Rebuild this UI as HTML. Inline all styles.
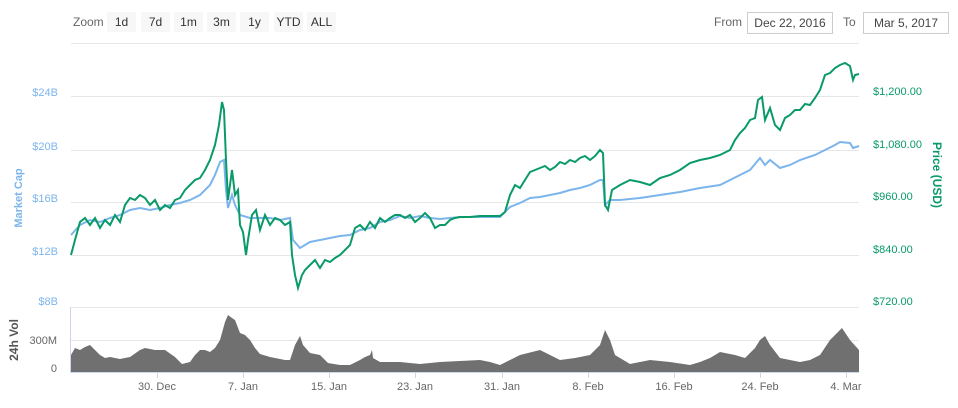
<!DOCTYPE html>
<html><head><meta charset="utf-8"><style>
body{margin:0;background:#fff;font-family:"Liberation Sans",sans-serif;}
.btn{position:absolute;top:12px;height:20px;background:#f7f7f7;font-size:12px;color:#333;line-height:20px;text-align:center;border-radius:2px}
.box{position:absolute;top:12px;height:20px;border:1px solid #ccc;font-size:12px;color:#444;line-height:20px;text-align:center}
</style></head><body>
<div style="position:relative;width:958px;height:408px;overflow:hidden">
<div style="position:absolute;left:73px;top:12px;font-size:12px;line-height:20px;color:#666">Zoom</div>
<div class="btn" style="left:107px;width:29px">1d</div>
<div class="btn" style="left:141px;width:29px">7d</div>
<div class="btn" style="left:174px;width:29px">1m</div>
<div class="btn" style="left:207px;width:29px">3m</div>
<div class="btn" style="left:240px;width:29px">1y</div>
<div class="btn" style="left:274px;width:29px">YTD</div>
<div class="btn" style="left:307px;width:29px">ALL</div>
<div style="position:absolute;left:714px;top:12px;font-size:12px;line-height:20px;color:#666">From</div>
<div class="box" style="left:747px;width:84px">Dec 22, 2016</div>
<div style="position:absolute;left:843px;top:12px;font-size:12px;line-height:20px;color:#666">To</div>
<div class="box" style="left:863px;width:84px">Mar 5, 2017</div>
<svg width="958" height="408" style="position:absolute;left:0;top:0" font-family="Liberation Sans, sans-serif">
<g stroke="#e6e6e6" stroke-width="1">
<line x1="71" x2="859" y1="43.5" y2="43.5"/><line x1="71" x2="859" y1="96.5" y2="96.5"/><line x1="71" x2="859" y1="150.5" y2="150.5"/><line x1="71" x2="859" y1="202.5" y2="202.5"/><line x1="71" x2="859" y1="255.5" y2="255.5"/><line x1="71" x2="859" y1="307.5" y2="307.5"/><line x1="71" x2="859" y1="340.5" y2="340.5"/>
</g>
<line x1="70.5" x2="70.5" y1="307" y2="373" stroke="#ccd6eb"/>
<line x1="70" x2="859" y1="372.5" y2="372.5" stroke="#ccd6eb"/>
<g stroke="#ccd6eb"><line x1="157.5" x2="157.5" y1="373" y2="378"/><line x1="243.5" x2="243.5" y1="373" y2="378"/><line x1="329.5" x2="329.5" y1="373" y2="378"/><line x1="415.5" x2="415.5" y1="373" y2="378"/><line x1="502.5" x2="502.5" y1="373" y2="378"/><line x1="588.5" x2="588.5" y1="373" y2="378"/><line x1="674.5" x2="674.5" y1="373" y2="378"/><line x1="760.5" x2="760.5" y1="373" y2="378"/><line x1="846.5" x2="846.5" y1="373" y2="378"/></g>
<polygon fill="#707070" points="71,372 71,355 75,348 80,350 85,347 90,345 95,350 100,355 105,358 110,357 120,359 130,357 140,350 145,348 155,350 165,350 175,357 182,364 190,362 195,355 200,350 205,350 210,352 215,348 220,340 225,322 228,315 232,318 235,320 240,333 245,335 250,340 255,348 260,354 270,357 285,360 290,360 295,345 300,336 303,345 310,353 320,355 328,363 340,365 350,365 360,360 365,357 370,355 372,350 373,358 380,362 400,362 420,364 440,362 460,361 480,360 490,362 500,365 510,360 520,355 540,350 550,355 560,360 575,358 590,355 600,345 605,330 610,340 615,355 630,364 650,360 670,362 690,365 700,362 710,358 720,352 735,355 745,358 755,348 760,340 765,336 770,345 780,358 800,362 810,360 820,355 830,340 840,330 842,328 850,340 859,350 859,372"/>
<polyline fill="none" stroke="#7cb5ec" stroke-width="2" points="71,235 80,225 90,220 100,222 110,218 120,215 130,210 140,208 150,210 160,208 170,205 180,203 190,200 200,195 210,185 215,175 220,162 224,160 226,190 228,208 232,195 235,205 240,215 250,218 260,218 270,218 280,220 290,218 293,240 300,248 310,242 320,240 330,238 340,236 350,235 360,230 370,228 380,222 390,220 400,216 410,218 420,216 430,218 440,219 450,218 460,217 500,217 510,207 520,203 530,198 540,197 550,195 560,193 570,190 580,188 590,185 600,180 603,180 605,205 610,200 620,200 640,198 660,195 680,192 700,188 720,185 740,175 750,170 760,158 765,165 770,160 780,168 790,165 800,160 815,155 825,150 835,145 840,142 850,143 853,148 859,146"/>
<polyline fill="none" stroke="#0a9a68" stroke-width="2" points="71,255 75,240 80,222 85,218 90,225 95,218 100,228 105,220 110,225 115,215 120,222 125,205 130,198 135,200 140,195 145,198 150,205 155,200 160,210 165,205 170,208 175,200 180,198 185,190 190,185 195,180 200,178 205,170 210,160 215,145 219,125 222,102 224,110 226,160 228,200 232,170 235,195 238,190 240,225 243,232 246,255 248,240 252,215 256,210 260,230 265,215 270,225 275,218 280,220 285,225 290,222 292,255 295,275 298,288 302,275 305,270 310,265 315,260 320,268 325,260 330,262 335,258 340,255 345,250 350,245 355,228 360,225 365,230 370,222 375,228 380,218 385,222 390,218 395,215 400,215 405,218 410,215 415,222 420,218 425,213 430,218 435,228 440,225 445,225 450,220 455,218 460,217 470,217 480,216 490,216 500,216 505,212 510,195 515,185 520,188 525,180 530,172 535,170 540,168 545,166 550,170 555,167 560,162 565,164 570,160 575,162 580,158 585,156 590,160 595,156 600,150 603,153 605,205 608,210 612,190 620,185 630,180 640,182 650,185 660,178 670,175 680,170 690,163 700,160 710,158 720,155 730,150 735,140 740,133 745,128 750,120 755,118 758,100 762,97 765,120 770,108 775,125 780,130 785,118 790,115 795,110 800,110 805,104 810,105 815,98 820,90 825,75 830,73 835,68 840,65 845,63 850,66 853,80 855,75 859,74"/>
<g font-size="11" fill="#7cb5ec" text-anchor="end"><text x="58" y="96">$24B</text><text x="58" y="150">$20B</text><text x="58" y="202">$16B</text><text x="58" y="255">$12B</text><text x="58" y="305">$8B</text></g>
<g font-size="11" fill="#0a9a68"><text x="873" y="95">$1,200.00</text><text x="873" y="148">$1,080.00</text><text x="873" y="200">$960.00</text><text x="873" y="253">$840.00</text><text x="873" y="305">$720.00</text></g>
<g font-size="11" fill="#666" text-anchor="end"><text x="57" y="344">300M</text><text x="57" y="372">0</text></g>
<g font-size="11" fill="#666" text-anchor="middle"><text x="157" y="390">30. Dec</text><text x="243" y="390">7. Jan</text><text x="329" y="390">15. Jan</text><text x="415" y="390">23. Jan</text><text x="502" y="390">31. Jan</text><text x="588" y="390">8. Feb</text><text x="674" y="390">16. Feb</text><text x="760" y="390">24. Feb</text><text x="846" y="390">4. Mar</text></g>
<text transform="translate(22,198) rotate(-90)" font-size="11" font-weight="bold" fill="#7cb5ec" text-anchor="middle">Market Cap</text>
<text transform="translate(933,175) rotate(90)" font-size="12" font-weight="bold" fill="#0a9a68" text-anchor="middle">Price (USD)</text>
<text transform="translate(18,340) rotate(-90)" font-size="12" font-weight="bold" fill="#555" text-anchor="middle">24h Vol</text>
</svg>
</div>
</body></html>
